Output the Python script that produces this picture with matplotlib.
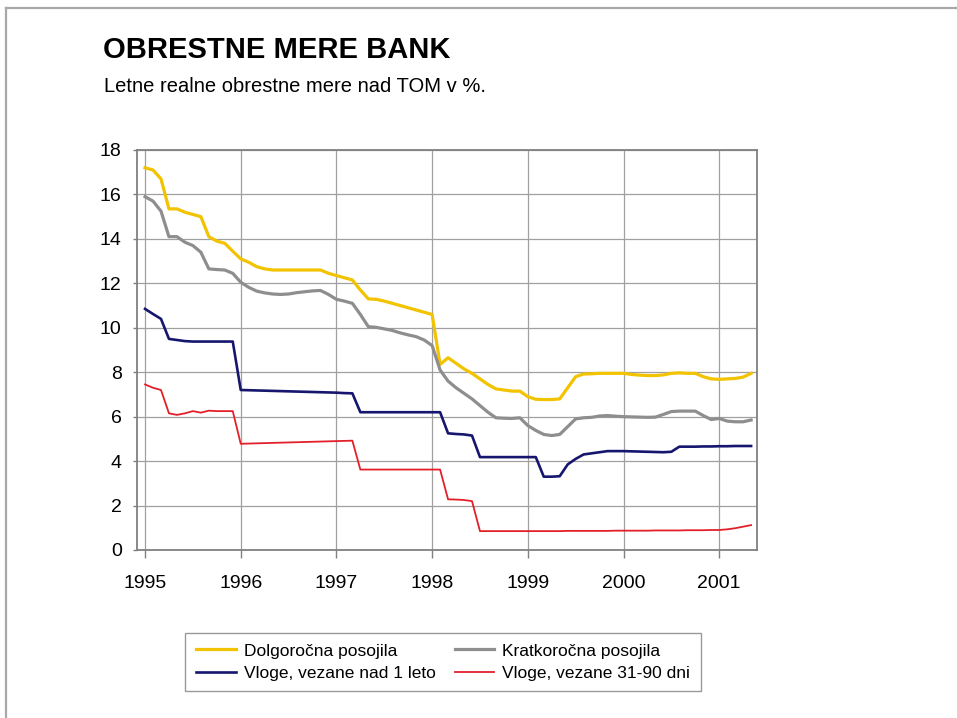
import numpy as np
import matplotlib
matplotlib.use('Agg')
import matplotlib.pyplot as plt
from matplotlib.lines import Line2D

plt.rcParams['font.family'] = ['Liberation Sans', 'DejaVu Sans']

# monthly values, Jan 1995 - May 2001
start_year = 1995
dolgorocna = [17.2, 17.1, 16.7, 15.35, 15.35, 15.2, 15.1, 15.0, 14.1, 13.9, 13.8, 13.45,
              13.1, 12.95, 12.75, 12.65, 12.6, 12.6, 12.6, 12.6, 12.6, 12.6, 12.6, 12.45,
              12.35, 12.25, 12.15, 11.7, 11.3, 11.28, 11.2, 11.1, 11.0, 10.9, 10.8, 10.7,
              10.6, 8.35, 8.65, 8.4, 8.15, 7.95, 7.7, 7.45, 7.25, 7.2, 7.15, 7.15,
              6.9, 6.78, 6.77, 6.77, 6.8, 7.3, 7.8, 7.92, 7.93, 7.95, 7.95, 7.95,
              7.95, 7.9, 7.87, 7.85, 7.85, 7.88, 7.95, 7.97, 7.95, 7.95, 7.8, 7.7,
              7.68, 7.7, 7.72, 7.78, 7.95]
kratkorocna = [15.9, 15.7, 15.25, 14.1, 14.1, 13.85, 13.7, 13.4, 12.65, 12.62, 12.6, 12.45,
               12.05, 11.82, 11.65, 11.57, 11.52, 11.5, 11.52, 11.58, 11.62, 11.66, 11.68, 11.5,
               11.28, 11.2, 11.1, 10.6, 10.05, 10.02, 9.95, 9.88, 9.77, 9.68, 9.6, 9.45,
               9.2, 8.1, 7.6, 7.3, 7.05, 6.8, 6.5, 6.2, 5.95, 5.93, 5.92, 5.95,
               5.6, 5.38, 5.2, 5.15, 5.2, 5.55, 5.9, 5.95, 5.97, 6.03, 6.05, 6.02,
               6.0, 5.99, 5.98, 5.97, 5.98, 6.1, 6.23, 6.25, 6.25, 6.25, 6.05, 5.87,
               5.92, 5.8, 5.77, 5.77, 5.85]
vloge_1leto = [10.85, 10.62, 10.4, 9.5, 9.45, 9.4, 9.38, 9.38, 9.38, 9.38, 9.38, 9.38,
               7.2, 7.19, 7.18, 7.17, 7.16, 7.15, 7.14, 7.13, 7.12, 7.11, 7.1, 7.09,
               7.08, 7.06, 7.05, 6.2, 6.2, 6.2, 6.2, 6.2, 6.2, 6.2, 6.2, 6.2,
               6.2, 6.2, 5.25, 5.22, 5.2, 5.15, 4.18, 4.18, 4.18, 4.18, 4.18, 4.18,
               4.18, 4.18, 3.3, 3.3, 3.32, 3.85, 4.1, 4.3, 4.35, 4.4, 4.45, 4.45,
               4.45, 4.44, 4.43, 4.42, 4.41, 4.4, 4.42, 4.65, 4.65, 4.65, 4.66, 4.66,
               4.67, 4.67, 4.68, 4.68, 4.68]
vloge_31_90 = [7.45, 7.3, 7.2, 6.15, 6.08, 6.15, 6.25, 6.18, 6.27, 6.25, 6.25, 6.25,
               4.78, 4.79, 4.8, 4.81, 4.82, 4.83, 4.84, 4.85, 4.86, 4.87, 4.88, 4.89,
               4.9, 4.91, 4.92, 3.62, 3.62, 3.62, 3.62, 3.62, 3.62, 3.62, 3.62, 3.62,
               3.62, 3.62, 2.28, 2.27, 2.25, 2.2, 0.85, 0.85, 0.85, 0.85, 0.85, 0.85,
               0.85, 0.85, 0.85, 0.85, 0.85, 0.86, 0.86, 0.86, 0.86, 0.86, 0.86, 0.87,
               0.87, 0.87, 0.87, 0.87, 0.88, 0.88, 0.88, 0.88, 0.89, 0.89, 0.89, 0.9,
               0.9, 0.93, 0.98, 1.05, 1.12]
year_ticks = [1995, 1996, 1997, 1998, 1999, 2000, 2001]
y_ticks = [0, 2, 4, 6, 8, 10, 12, 14, 16, 18]

labels = ['Dolgoročna posojila', 'Kratkoročna posojila',
          'Vloge, vezane nad 1 leto', 'Vloge, vezane 31-90 dni']

x = start_year + np.arange(len(dolgorocna)) / 12.0

W, H = 957, 718
fig = plt.figure(figsize=(W / 100, H / 100), dpi=100)
fig.patch.set_facecolor('white')

# page frame (top and left edge)
fig.add_artist(Line2D([6 / W, 1], [1 - 8 / H, 1 - 8 / H], color='#a8a8a8', lw=1.6))
fig.add_artist(Line2D([6 / W, 6 / W], [0, 1 - 8 / H], color='#a8a8a8', lw=1.6))

fig.text(103 / W, 1 - 58 / H, 'OBRESTNE MERE BANK', fontsize=21, fontweight='bold',
         va='baseline', ha='left')
fig.text(104 / W, 1 - 92 / H, 'Letne realne obrestne mere nad TOM v %.', fontsize=14.5,
         va='baseline', ha='left')

ax = fig.add_axes([137 / W, 168 / H, 620 / W, 400 / H])
l1, = ax.plot(x, dolgorocna, color='#f2c300', lw=2.3, solid_joinstyle='round')
l2, = ax.plot(x, kratkorocna, color='#8e8e8e', lw=2.3, solid_joinstyle='round')
l3, = ax.plot(x, vloge_1leto, color='#16166e', lw=1.9, solid_joinstyle='round')
l4, = ax.plot(x, vloge_31_90, color='#e3202a', lw=1.3, solid_joinstyle='round')

ax.set_xlim(1994.916, 2001.395)
ax.set_ylim(0, 18)
ax.set_xticks(year_ticks)
ax.set_xticklabels([str(y) for y in year_ticks])
ax.set_yticks(y_ticks)
ax.grid(True, color='#a0a0a0', lw=0.9)
ax.set_axisbelow(True)
for s in ax.spines.values():
    s.set_color('#808080')
    s.set_linewidth(1.3)
ax.tick_params(axis='x', direction='out', length=6, width=1, color='#808080',
               pad=12, labelsize=14)
ax.tick_params(axis='y', direction='out', length=3, width=1, color='#808080',
               pad=8, labelsize=14)

leg = fig.legend([l1, l3, l2, l4], [labels[0], labels[2], labels[1], labels[3]],
                 ncol=2, loc='center', bbox_to_anchor=(443 / W, 1 - 662 / H),
                 fontsize=12.5, frameon=True, fancybox=False, handlelength=2.3,
                 handletextpad=0.45, columnspacing=1.1, labelspacing=0.4,
                 borderpad=0.6)
leg.get_frame().set_edgecolor('#808080')
leg.get_frame().set_linewidth(1.0)

fig.savefig('out.png', dpi=100)
